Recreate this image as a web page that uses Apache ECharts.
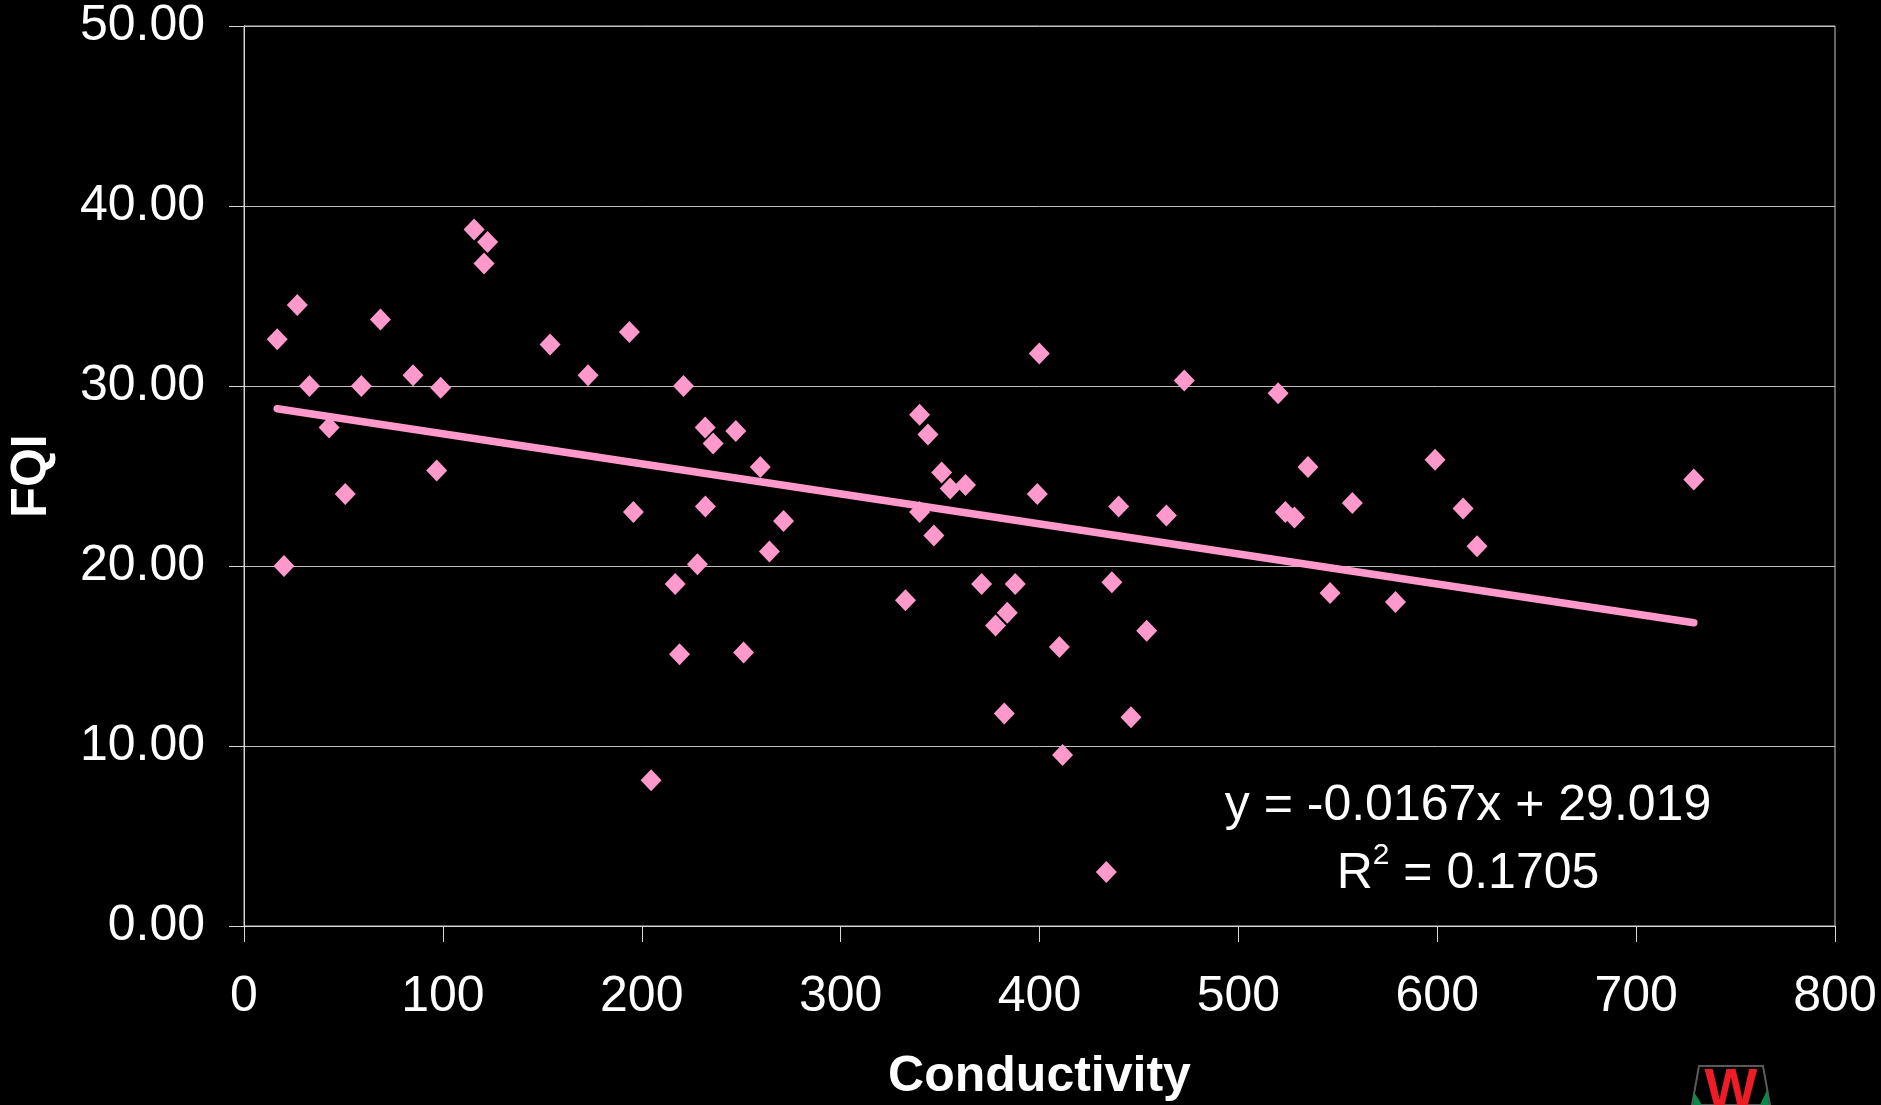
<!DOCTYPE html>
<html>
<head>
<meta charset="utf-8">
<title>FQI vs Conductivity</title>
<script src="https://cdn.jsdelivr.net/npm/echarts@6/dist/echarts.min.js"></script>
<style>
  html, body { margin: 0; padding: 0; background: #000; }
  #chart { width: 1881px; height: 1105px; }
</style>
</head>
<body>
<div id="chart"></div>
<script>
// Site measurements: specific conductance and Floristic Quality Index
const conductivity = [
  16.7, 20.1, 26.8, 32.9, 42.8, 50.9, 59.0, 68.6, 85.0, 96.9,
  98.9, 115.7, 120.7, 122.5, 153.9, 173.0, 193.8, 195.8, 204.7, 216.8,
  219.0, 221.0, 228.0, 231.9, 232.0, 235.9, 247.3, 251.2, 259.6, 264.2,
  271.3, 332.6, 339.7, 339.7, 343.9, 346.9, 350.8, 355.1, 362.8, 370.9,
  377.9, 382.3, 383.8, 387.8, 398.9, 399.9, 410.0, 411.6, 433.6, 436.4,
  439.8, 446.0, 453.9, 463.8, 472.8, 520.0, 523.6, 528.2, 535.0, 546.1,
  557.3, 579.0, 598.9, 613.0, 620.0, 729.0
];
const fqi = [
  32.6, 20.0, 34.5, 30.0, 27.7, 24.0, 30.0, 33.7, 30.6, 25.3,
  29.9, 38.7, 36.8, 38.0, 32.3, 30.6, 33.0, 23.0, 8.1, 19.0,
  15.1, 30.0, 20.1, 27.7, 23.3, 26.8, 27.5, 15.2, 25.5, 20.8,
  22.5, 18.1, 28.4, 23.0, 27.3, 21.7, 25.2, 24.3, 24.5, 19.0,
  16.7, 11.8, 17.4, 19.0, 24.0, 31.8, 15.5, 9.5, 3.0, 19.1,
  23.3, 11.6, 16.4, 22.8, 30.3, 29.6, 23.0, 22.7, 25.5, 18.5,
  23.5, 18.0, 25.9, 23.2, 21.1, 24.8
];

// Linear trend (least squares) as reported on the chart
const slope = -0.0167;
const intercept = 29.019;
const rSquared = 0.1705;

const xTicks = [0, 100, 200, 300, 400, 500, 600, 700, 800];
const yTicks = [0, 10, 20, 30, 40, 50];

const points = conductivity.map((c, i) => [c, fqi[i]]);
const xMin = Math.min(...conductivity);
const xMax = Math.max(...conductivity);
const trend = [[xMin, slope * xMin + intercept], [xMax, slope * xMax + intercept]];

const pink = '#FF99CC';
const font = "'Liberation Sans', Arial, sans-serif";

const chart = echarts.init(document.getElementById('chart'), null, { renderer: 'canvas' });

chart.setOption({
  backgroundColor: '#000000',
  animation: false,
  grid: {
    left: 244, right: 46, top: 26, bottom: 179,
    containLabel: false,
    outerBoundsMode: 'none',
    show: true, borderColor: '#c8c8c8', borderWidth: 1, backgroundColor: 'transparent'
  },
  xAxis: {
    type: 'value',
    min: xTicks[0], max: xTicks[xTicks.length - 1], interval: 100,
    name: 'Conductivity',
    nameLocation: 'middle',
    nameGap: 126,
    nameTextStyle: { color: '#fff', fontFamily: font, fontWeight: 'bold', fontSize: 50 },
    axisLine: { show: true, onZero: false, lineStyle: { color: '#d8d8d8', width: 1 } },
    axisTick: { show: true, inside: false, length: 16, lineStyle: { color: '#d8d8d8' } },
    axisLabel: { color: '#fff', fontFamily: font, fontSize: 50, margin: 46 },
    splitLine: { show: false }
  },
  yAxis: {
    type: 'value',
    min: yTicks[0], max: yTicks[yTicks.length - 1], interval: 10,
    name: 'FQI',
    nameLocation: 'middle',
    nameGap: 187,
    nameTextStyle: { color: '#fff', fontFamily: font, fontWeight: 'bold', fontSize: 50 },
    axisLine: { show: true, onZero: false, lineStyle: { color: '#d8d8d8', width: 1 } },
    axisTick: { show: true, inside: false, length: 15, lineStyle: { color: '#d8d8d8' } },
    axisLabel: {
      color: '#fff', fontFamily: font, fontSize: 50, margin: 39,
      formatter: v => v.toFixed(2)
    },
    splitLine: { show: true, lineStyle: { color: '#c0c0c0', width: 1 } }
  },
  series: [
    {
      name: 'FQI',
      type: 'scatter',
      data: points,
      symbol: 'diamond',
      symbolSize: [21, 22],
      itemStyle: { color: pink, opacity: 1 },
      z: 3
    },
    {
      name: 'Linear trend',
      type: 'line',
      data: trend,
      symbol: 'none',
      lineStyle: { color: pink, width: 7.5, opacity: 1, cap: 'round' },
      z: 2
    }
  ],
  graphic: [
    {
      type: 'text',
      x: 1468, y: 806,
      style: {
        text: 'y = ' + slope.toFixed(4) + 'x + ' + intercept.toFixed(3),
        fill: '#fff', font: '50px ' + font,
        textAlign: 'center', textVerticalAlign: 'middle'
      }
    },
    {
      type: 'text',
      x: 1468, y: 874,
      style: {
        text: 'R{sup|2} = ' + rSquared.toFixed(4),
        fill: '#fff', fontFamily: font, fontSize: 50, lineHeight: 66,
        align: 'center', verticalAlign: 'middle',
        rich: {
          sup: { fontFamily: font, fontSize: 30, lineHeight: 30, verticalAlign: 'top', fill: '#fff' }
        }
      }
    },
    // small logo mark at the lower right
    {
      type: 'group',
      children: [
        {
          type: 'polygon',
          shape: { points: [[1699, 1066], [1763, 1066], [1770, 1105], [1692, 1105]] },
          style: { fill: '#000', stroke: '#5a5a5a', lineWidth: 2 }
        },
        {
          type: 'polygon',
          shape: { points: [[1694, 1092], [1702, 1105], [1693, 1105]] },
          style: { fill: '#0a8a4a' }
        },
        {
          type: 'polygon',
          shape: { points: [[1767, 1090], [1769, 1105], [1760, 1105]] },
          style: { fill: '#0a8a4a' }
        },
        {
          type: 'text',
          x: 1731, y: 1064,
          style: {
            text: 'W', fill: '#ee1c24', font: 'bold 56px ' + font,
            textAlign: 'center', textVerticalAlign: 'top'
          }
        }
      ]
    }
  ]
});
</script>
</body>
</html>
